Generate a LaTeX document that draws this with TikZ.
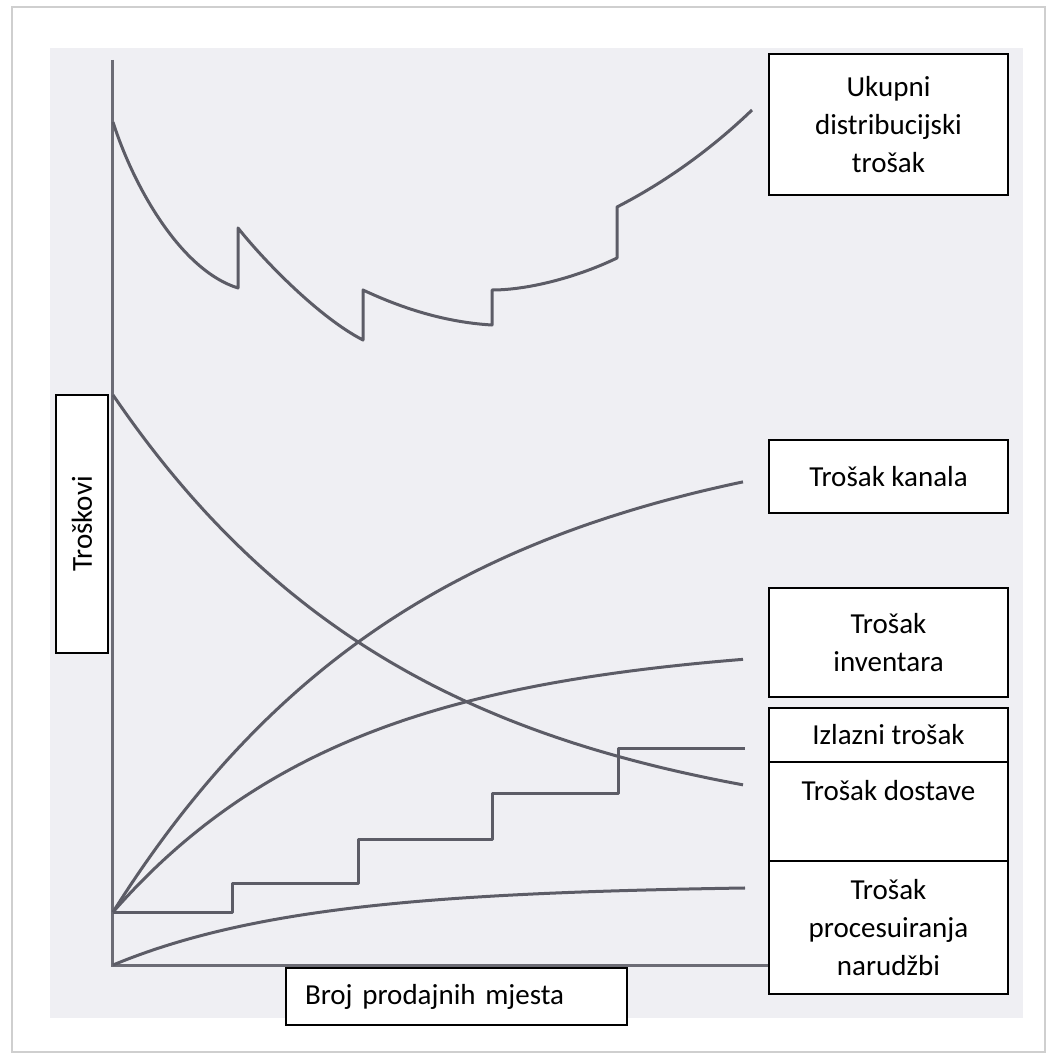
\documentclass[tikz,border=0pt]{standalone}
\usepackage{fontspec}
\setmainfont{Carlito}
\definecolor{photobg}{HTML}{EFEFF3}
\definecolor{curvecol}{HTML}{5C5C66}
\definecolor{framecol}{HTML}{CFCFCF}
\tikzset{
  curve/.style={draw=curvecol, line width=3pt, line join=round},
  axisline/.style={draw=curvecol!90, line width=3pt},
  labelbox/.style={draw=black, line width=1.3pt, fill=white, inner sep=0pt,
    font=\fontsize{29}{38}\selectfont, align=center},
  labeltext/.style={font=\fontsize{29}{38}\selectfont, inner sep=0pt}
}
\begin{document}
\begin{tikzpicture}[x=1pt,y=-1pt]
\useasboundingbox (0,0) rectangle (1051,1057);
\fill[white] (0,0) rectangle (1051,1057);
% outer frame
\draw[framecol, line width=2pt] (12,7) rectangle (1045,1052);
% scanned picture background
\fill[photobg] (50,48) rectangle (1023,1018);

% axes
\draw[axisline] (112,60) -- (112,965) -- (800,965);

% total distribution cost
\draw[curve] (113,122) .. controls (133,185) and (180,270) .. (238,288)
  -- (238,228) .. controls (265,262) and (320,318) .. (363,340)
  -- (363,290) .. controls (395,305) and (440,322) .. (492,325)
  -- (492,290) .. controls (530,290) and (580,276) .. (617,258)
  -- (617,207) .. controls (650,190) and (700,160) .. (752,110);

% delivery cost
\draw[curve] plot[domain=0:630, samples=90, smooth]
  ({113+\x}, {395+445.7*(1-exp(-0.0033*\x))});
% channel cost
\draw[curve] plot[domain=0:630, samples=90, smooth]
  ({113+\x}, {912-496*(1-exp(-0.0032*\x))});
% inventory cost
\draw[curve] plot[domain=0:630, samples=90, smooth]
  ({113+\x}, {912-272*(1-exp(-0.0042*\x))});
% order processing cost
\draw[curve] plot[domain=0:632, samples=90, smooth]
  ({113+\x}, {965-80*(1-exp(-0.0052*\x))});
% exit cost (steps)
\draw[curve] (113,912) -- (232,912) -- (232,883) -- (358,883) -- (358,839)
  -- (492,839) -- (492,793) -- (618,793) -- (618,748) -- (745,748);

% label boxes
\node[labelbox, minimum width=239, minimum height=141] (ukupni) at (888.5,124.5)
  {Ukupni\\distribucijski\\trošak};
\node[labelbox, minimum width=239, minimum height=73] (kanala) at (888.5,476.5)
  {Trošak kanala};
\node[labelbox, minimum width=239, minimum height=109] (inventara) at (888.5,642.5)
  {Trošak\\inventara};
\node[labelbox, minimum width=239, minimum height=54] (izlazni) at (888.5,735)
  {Izlazni trošak};
\node[labelbox, minimum width=239, minimum height=99] (dostave) at (888.5,811.5) {};
\node[labeltext, anchor=base] (dostavetxt) at (888.5,800) {Trošak dostave};
\node[labelbox, minimum width=239, minimum height=133] (proc) at (888.5,927.5)
  {Trošak\\procesuiranja\\narudžbi};
\node[labelbox, rotate=90, minimum width=258, minimum height=52] (troskovi) at (82,524)
  {Troškovi};
\node[labelbox, minimum width=341, minimum height=57, text width=303, align=left,
  inner xsep=19pt] (broj) at (456.5,996.5) {Broj prodajnih mjesta};
\end{tikzpicture}
\end{document}
